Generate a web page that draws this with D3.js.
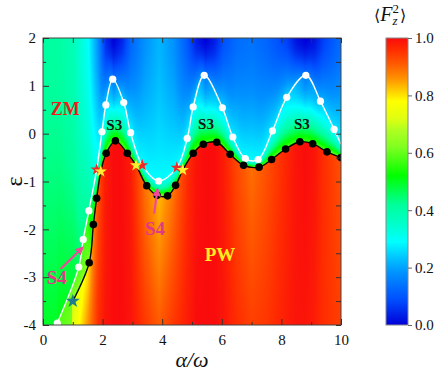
<!DOCTYPE html>
<html>
<head>
<meta charset="utf-8">
<script src="https://cdn.jsdelivr.net/npm/d3@7"></script>
<style>
  body { margin: 0; background: #fff; }
  svg text { font-family: "Liberation Serif", "Times New Roman", "DejaVu Serif", serif; }
</style>
</head>
<body>
<div id="chart"></div>
<script>
// ---- data ----
// white boundary (open circles)
const whiteDotX = [0.48, 1.20, 1.35, 1.54, 1.98, 2.11, 2.34, 2.71, 2.94, 3.88, 4.84, 5.04, 5.41, 6.02, 6.37, 6.79, 7.22, 7.70, 8.18, 8.82, 9.31, 9.77];
const whiteDotY = [-3.96, -2.79, -2.21, -1.61, 0.04, 0.60, 1.14, 0.65, 0.02, -0.99, -0.10, 0.56, 1.22, 0.54, -0.07, -0.52, -0.54, 0.06, 0.76, 1.22, 0.68, 0.09];
const whiteTail = [10, -0.22];
// black boundary (filled circles)
const blackDotX = [1.55, 1.69, 1.80, 2.12, 2.43, 2.83, 3.48, 3.83, 4.18, 4.45, 5.04, 5.38, 5.83, 6.28, 6.73, 7.25, 7.67, 8.14, 8.62, 9.05, 9.53, 10.0];
const blackDotY = [-2.70, -1.90, -1.35, -0.41, -0.15, -0.41, -1.09, -1.29, -1.30, -1.08, -0.41, -0.22, -0.18, -0.43, -0.66, -0.70, -0.54, -0.32, -0.17, -0.21, -0.38, -0.50];
// stars
const redStarX = [1.80, 3.33, 4.49];
const redStarY = [-0.75, -0.66, -0.71];
const yellowStarX = [1.94, 3.12, 4.69];
const yellowStarY = [-0.79, -0.66, -0.76];
const tealStar = [1.00, -3.50];

// background field <F_z^2>, read per column
const fieldX          = [0,    0.5,  1.0,  1.5,  1.85, 2.1,  2.37, 2.65, 2.95, 3.4,  3.9,  4.4,  4.85, 5.15, 5.45, 5.75, 6.05, 6.5,  7.0,  7.5,  8.2,  8.5,  8.8,  9.1,  9.4,  10];
const fieldTop        = [0.41, 0.41, 0.38, 0.30, 0.18, 0.05, 0.00, 0.04, 0.12, 0.18, 0.22, 0.18, 0.10, 0.03, 0.00, 0.03, 0.09, 0.13, 0.14, 0.12, 0.07, 0.02, 0.00, 0.02, 0.07, 0.13];
const fieldAboveWhite = [0.51, 0.51, 0.49, 0.42, 0.31, 0.26, 0.14, 0.24, 0.29, 0.29, 0.29, 0.29, 0.29, 0.24, 0.14, 0.20, 0.25, 0.28, 0.29, 0.28, 0.25, 0.20, 0.14, 0.18, 0.24, 0.29];
const fieldBelowWhite = [0.55, 0.58, 0.60, 0.56, 0.32, 0.27, 0.16, 0.26, 0.30, 0.31, 0.31, 0.31, 0.30, 0.26, 0.16, 0.22, 0.27, 0.29, 0.31, 0.30, 0.27, 0.22, 0.16, 0.20, 0.26, 0.31];
const fieldAboveBlack = [0.60, 0.62, 0.64, 0.63, 0.62, 0.60, 0.58, 0.59, 0.60, 0.63, 0.66, 0.63, 0.60, 0.58, 0.57, 0.57, 0.58, 0.62, 0.64, 0.62, 0.58, 0.57, 0.57, 0.57, 0.58, 0.62];
const fieldBelowBlack = [0.70, 0.70, 0.70, 0.80, 0.92, 0.98, 1.00, 1.00, 0.98, 0.89, 0.83, 0.89, 0.96, 0.99, 1.00, 1.00, 0.98, 0.93, 0.89, 0.92, 0.97, 0.99, 1.00, 0.99, 0.96, 0.92];
const fieldBottom     = [0.70, 0.70, 0.72, 0.86, 0.96, 0.99, 1.00, 1.00, 0.99, 0.95, 0.91, 0.95, 0.98, 1.00, 1.00, 1.00, 0.99, 0.96, 0.94, 0.95, 0.98, 0.99, 0.99, 0.98, 0.96, 0.94];

// colour map (from the colour bar)
const cmapStops  = [0.0, 0.09, 0.18, 0.23, 0.29, 0.35, 0.42, 0.52, 0.62, 0.68, 0.72, 0.78, 0.82, 0.86, 0.91, 0.96, 1.0];
const cmapColors = ['#0000d8', '#0050ff', '#0090ff', '#00c0ff', '#00ffff', '#00ffcc', '#00ff99', '#00ff00', '#80ff20', '#b0ff20', '#e0ff10', '#ffff00', '#ffc800', '#ff9000', '#ff5a00', '#ff2c00', '#fa0c0c'];

const xTicks = [0, 2, 4, 6, 8, 10];
const xMinor = [1, 3, 5, 7, 9];
const yTicks = [-4, -3, -2, -1, 0, 1, 2];
const yMinor = [-3.5, -2.5, -1.5, -0.5, 0.5, 1.5];
const cbTicks = [0, 0.2, 0.4, 0.6, 0.8, 1.0];

// labels, in data coords
const regionLabels = [
  { text: 'ZM', x: 0.75, y: 0.52, color: '#ee1c1c', size: 18 },
  { text: 'S3', x: 2.39, y: 0.18, color: '#111', size: 15 },
  { text: 'S3', x: 5.47, y: 0.21, color: '#111', size: 15 },
  { text: 'S3', x: 8.69, y: 0.21, color: '#111', size: 15 },
  { text: 'S4', x: 0.46, y: -3.01, color: '#e03a86', size: 19 },
  { text: 'S4', x: 3.76, y: -1.99, color: '#e03a86', size: 19 },
  { text: 'PW', x: 5.94, y: -2.52, color: '#ffee22', size: 19 }
];
const arrows = [
  { x1: 0.59, y1: -2.83, x2: 1.33, y2: -2.38 },
  { x1: 3.73, y1: -1.67, x2: 3.84, y2: -1.16 }
];

// ---- chart ----
const width = 443, height = 372;
const x0 = 43, x1 = 341, y0 = 38, y1 = 325;
const plotW = x1 - x0, plotH = y1 - y0;
const serif = '"Liberation Serif", "Times New Roman", "DejaVu Serif", serif';

const x = d3.scaleLinear().domain([0, 10]).range([x0, x1]);
const y = d3.scaleLinear().domain([-4, 2]).range([y1, y0]);
const color = d3.scaleLinear().domain(cmapStops).range(cmapColors).clamp(true);

const svg = d3.select('#chart').append('svg')
  .attr('width', width)
  .attr('height', height)
  .attr('font-family', serif);

const defs = svg.append('defs');
defs.append('clipPath').attr('id', 'plot-clip')
  .append('rect').attr('x', x0).attr('y', y0).attr('width', plotW).attr('height', plotH);

defs.append('marker')
  .attr('id', 'arrow-head')
  .attr('viewBox', '0 0 10 10')
  .attr('refX', 8).attr('refY', 5)
  .attr('markerWidth', 4).attr('markerHeight', 4)
  .attr('orient', 'auto')
  .attr('markerUnits', 'strokeWidth')
  .append('path').attr('d', 'M0,0 L10,5 L0,10 z').attr('fill', '#ee4a9c');

const imgLayer = svg.append('g');
const plot = svg.append('g').attr('clip-path', 'url(#plot-clip)');

// curves: stars sit on the lines
const whitePts = d3.zip(whiteDotX, whiteDotY)
  .concat(d3.zip(redStarX, redStarY))
  .concat([whiteTail])
  .sort((a, b) => a[0] - b[0]);
const blackPts = [tealStar]
  .concat(d3.zip(blackDotX, blackDotY))
  .concat(d3.zip(yellowStarX, yellowStarY))
  .sort((a, b) => a[0] - b[0]);

const line = d3.line()
  .x(d => x(d[0]))
  .y(d => y(d[1]))
  .curve(d3.curveCatmullRom.alpha(0.5));

const whitePath = plot.append('path')
  .datum(whitePts)
  .attr('d', line)
  .attr('fill', 'none')
  .attr('stroke', '#fff')
  .attr('stroke-width', 1.4);

const blackPath = plot.append('path')
  .datum(blackPts)
  .attr('d', line)
  .attr('fill', 'none')
  .attr('stroke', '#000')
  .attr('stroke-width', 1.4);

// sample a drawn curve into one epsilon per pixel column
function sampleCurve(node) {
  const sum = new Float64Array(plotW), cnt = new Float64Array(plotW);
  const L = node.getTotalLength();
  for (let s = 0; s <= L; s += 0.25) {
    const p = node.getPointAtLength(s);
    const i = Math.floor(p.x - x0);
    if (i >= 0 && i < plotW) { sum[i] += p.y; cnt[i] += 1; }
  }
  const out = Array.from(sum, (v, i) => cnt[i] ? y.invert(v / cnt[i]) : NaN);
  let first = out.findIndex(v => !isNaN(v));
  for (let i = 0; i < first; i++) out[i] = -4.6;
  let last = out[first];
  for (let i = first; i < plotW; i++) {
    if (isNaN(out[i])) out[i] = last; else last = out[i];
  }
  return out;
}

const epsW = sampleCurve(whitePath.node());
const epsB = sampleCurve(blackPath.node());

const interp = arr => d3.scaleLinear().domain(fieldX).range(arr).clamp(true);
const fTop = interp(fieldTop), fAW = interp(fieldAboveWhite), fBW = interp(fieldBelowWhite),
      fAB = interp(fieldAboveBlack), fBB = interp(fieldBelowBlack), fBot = interp(fieldBottom);

const canvas = document.createElement('canvas');
canvas.width = plotW;
canvas.height = plotH;
const ctx = canvas.getContext('2d');
const img = ctx.createImageData(plotW, plotH);
for (let i = 0; i < plotW; i++) {
  const xv = x.invert(x0 + i + 0.5);
  const top = fTop(xv), aw = fAW(xv), bw = fBW(xv), ab = fAB(xv), bb = fBB(xv), bot = fBot(xv);
  const eW = epsW[i], eB = Math.min(epsB[i], eW);
  for (let j = 0; j < plotH; j++) {
    const e = y.invert(y0 + j + 0.5);
    let v;
    if (e >= eW) {
      const t = (2 - e) / (2 - eW);
      v = top + (aw - top) * Math.pow(t, 1.6);
    } else if (e >= eB) {
      const t = (eW - e) / Math.max(eW - eB, 1e-6);
      v = bw + (ab - bw) * Math.pow(t, 1.7);
    } else {
      v = bb + (bot - bb) * (eB - e) / Math.max(eB + 4, 1e-6);
    }
    const c = d3.rgb(color(v));
    const k = (j * plotW + i) * 4;
    img.data[k] = c.r; img.data[k + 1] = c.g; img.data[k + 2] = c.b; img.data[k + 3] = 255;
  }
}
ctx.putImageData(img, 0, 0);

imgLayer.append('image')
  .attr('x', x0).attr('y', y0)
  .attr('width', plotW).attr('height', plotH)
  .attr('preserveAspectRatio', 'none')
  .attr('href', canvas.toDataURL());

// markers
plot.selectAll('.wdot')
  .data(d3.zip(whiteDotX, whiteDotY))
  .enter().append('circle')
  .attr('class', 'wdot')
  .attr('cx', d => x(d[0])).attr('cy', d => y(d[1]))
  .attr('r', 3.6)
  .attr('fill', '#fff');

plot.selectAll('.bdot')
  .data(d3.zip(blackDotX, blackDotY))
  .enter().append('circle')
  .attr('class', 'bdot')
  .attr('cx', d => x(d[0])).attr('cy', d => y(d[1]))
  .attr('r', 3.8)
  .attr('fill', '#000');

const star = d3.symbol().type(d3.symbolStar);

plot.selectAll('.rstar')
  .data(d3.zip(redStarX, redStarY))
  .enter().append('path')
  .attr('class', 'rstar')
  .attr('d', star.size(46))
  .attr('transform', d => `translate(${x(d[0])},${y(d[1])})`)
  .attr('fill', '#f02828');

plot.selectAll('.ystar')
  .data(d3.zip(yellowStarX, yellowStarY))
  .enter().append('path')
  .attr('class', 'ystar')
  .attr('d', star.size(46))
  .attr('transform', d => `translate(${x(d[0])},${y(d[1])})`)
  .attr('fill', '#ffee30');

plot.append('path')
  .attr('d', star.size(62))
  .attr('transform', `translate(${x(tealStar[0])},${y(tealStar[1])})`)
  .attr('fill', '#1d7d8c');

// annotations
plot.selectAll('.arrow')
  .data(arrows)
  .enter().append('line')
  .attr('x1', d => x(d.x1)).attr('y1', d => y(d.y1))
  .attr('x2', d => x(d.x2)).attr('y2', d => y(d.y2))
  .attr('stroke', '#ee4a9c')
  .attr('stroke-width', 2.2)
  .attr('marker-end', 'url(#arrow-head)');

plot.selectAll('.rlabel')
  .data(regionLabels)
  .enter().append('text')
  .attr('x', d => x(d.x)).attr('y', d => y(d.y))
  .attr('text-anchor', 'middle')
  .attr('dominant-baseline', 'central')
  .attr('font-family', serif)
  .attr('font-weight', 'bold')
  .attr('font-size', d => d.size)
  .attr('fill', d => d.color)
  .text(d => d.text);

// frame + axes (ticks point inward)
svg.append('rect')
  .attr('x', x0).attr('y', y0).attr('width', plotW).attr('height', plotH)
  .attr('fill', 'none').attr('stroke', '#444').attr('stroke-width', 1);

function styleAxis(g) {
  g.attr('font-family', serif).attr('font-size', 15);
  g.select('.domain').remove();
  g.selectAll('line').attr('stroke', '#333');
  g.selectAll('text').attr('fill', '#111');
}

svg.append('g').attr('transform', `translate(0,${y1})`)
  .call(d3.axisBottom(x).tickValues(xTicks).tickSize(-6).tickPadding(9).tickFormat(d => d))
  .call(styleAxis);
svg.append('g').attr('transform', `translate(0,${y1})`)
  .call(d3.axisBottom(x).tickValues(xMinor).tickSize(-3).tickFormat(''))
  .call(styleAxis);
svg.append('g').attr('transform', `translate(0,${y0})`)
  .call(d3.axisTop(x).tickValues(xTicks.concat(xMinor)).tickSize(-5).tickFormat(''))
  .call(styleAxis);

svg.append('g').attr('transform', `translate(${x0},0)`)
  .call(d3.axisLeft(y).tickValues(yTicks).tickSize(-6).tickPadding(7).tickFormat(d => d))
  .call(styleAxis);
svg.append('g').attr('transform', `translate(${x0},0)`)
  .call(d3.axisLeft(y).tickValues(yMinor).tickSize(-3).tickFormat(''))
  .call(styleAxis);
svg.append('g').attr('transform', `translate(${x1},0)`)
  .call(d3.axisRight(y).tickValues(yTicks.concat(yMinor)).tickSize(-5).tickFormat(''))
  .call(styleAxis);

// axis titles
svg.append('text')
  .attr('transform', `translate(22,${(y0 + y1) / 2}) rotate(-90)`)
  .attr('text-anchor', 'middle')
  .attr('font-family', serif)
  .attr('font-size', 24)
  .attr('fill', '#111')
  .text('\u03B5');

svg.append('text')
  .attr('x', (x0 + x1) / 2).attr('y', 367)
  .attr('text-anchor', 'middle')
  .attr('font-family', serif)
  .attr('font-size', 22)
  .attr('font-style', 'italic')
  .attr('fill', '#111')
  .text('\u03B1/\u03C9');

// colour bar
const cbX = 386, cbW = 22;
const cb = d3.scaleLinear().domain([0, 1]).range([y1, y0]);
const grad = defs.append('linearGradient')
  .attr('id', 'cb-grad')
  .attr('x1', 0).attr('y1', 1).attr('x2', 0).attr('y2', 0);
grad.selectAll('stop')
  .data(cmapStops)
  .enter().append('stop')
  .attr('offset', d => d)
  .attr('stop-color', d => color(d));

svg.append('rect')
  .attr('x', cbX).attr('y', y0).attr('width', cbW).attr('height', plotH)
  .attr('fill', 'url(#cb-grad)')
  .attr('stroke', '#888').attr('stroke-width', 1);

svg.append('g').attr('transform', `translate(${cbX + cbW},0)`)
  .call(d3.axisRight(cb).tickValues(cbTicks).tickSize(4).tickPadding(3).tickFormat(d3.format('.1f')))
  .call(styleAxis)
  .call(g => g.selectAll('line').attr('stroke', '#666'));

// colour bar title <F_z^2>: sub- and superscript stacked
const cbTitle = svg.append('text')
  .attr('x', 374).attr('y', 21)
  .attr('font-family', serif)
  .attr('font-size', 20)
  .attr('fill', '#111');
cbTitle.append('tspan').attr('font-family', '"DejaVu Serif", serif').attr('font-size', 16).text('\u27E8');
cbTitle.append('tspan').attr('font-style', 'italic').text('F');
cbTitle.append('tspan').attr('font-style', 'italic').attr('font-size', 13).attr('dy', 4).text('z');
cbTitle.append('tspan').attr('font-size', 13).attr('dx', -5).attr('dy', -12).text('2');
cbTitle.append('tspan').attr('font-family', '"DejaVu Serif", serif').attr('font-size', 16).attr('dx', 1).attr('dy', 8).text('\u27E9');
</script>
</body>
</html>
